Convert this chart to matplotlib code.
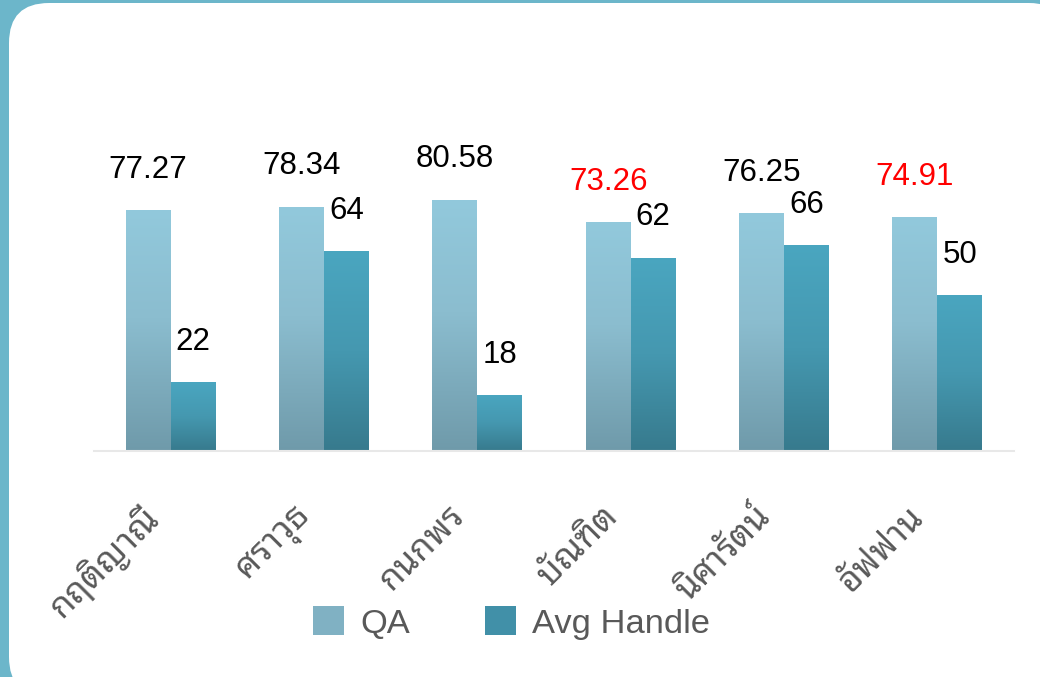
import numpy as np
import matplotlib
matplotlib.use('Agg')
import matplotlib.pyplot as plt
from matplotlib import font_manager as fm
from matplotlib.patches import FancyBboxPatch, Rectangle
from matplotlib.colors import LinearSegmentedColormap
from matplotlib.transforms import ScaledTranslation

# datos
nombres = ['กฤติญาณี', 'ศราวุธ', 'กนกพร', 'บัณฑิต', 'นิศารัตน์', 'อัฟฟาน']
qa = [77.27, 78.34, 80.58, 73.26, 76.25, 74.91]
avg_handle = [22, 64, 18, 62, 66, 50]
series = ['QA', 'Avg Handle']
umbral_qa = 75

# fuente tailandesa disponible
disponibles = {f.name for f in fm.fontManager.ttflist}
fuente_thai = 'DejaVu Sans'
for cand in ['Noto Sans Thai Looped', 'Noto Sans Thai', 'Sarabun', 'Niramit', 'Mitr']:
    if cand in disponibles:
        fuente_thai = cand
        break
fuente_lat = 'Liberation Sans'

fig = plt.figure(figsize=(10.4, 6.77), dpi=100)
fig.patch.set_facecolor('#6cb6ca')
# caja blanca redondeada (en pixeles)
caja = FancyBboxPatch((9, -20), 1060, 677 - 3 + 20,
                      boxstyle='round,pad=0,rounding_size=40',
                      transform=None, facecolor='white', edgecolor='none', zorder=-5)
fig.patches.append(caja)

ax = fig.add_axes([94 / 1040, 226 / 677, 920 / 1040, 312 / 677])
ax.set_facecolor('none')
ax.set_zorder(2)

x = np.arange(len(nombres))
w = 0.293

cmap_qa = LinearSegmentedColormap.from_list('qa', [(0, '#6f9aaa'), (0.55, '#8bbdcf'), (1, '#92c9dc')])
cmap_av = LinearSegmentedColormap.from_list('av', [(0, '#377a8d'), (0.5, '#4598b0'), (1, '#4aa6c0')])
grad = np.linspace(0, 1, 256).reshape(-1, 1)

barras_qa = ax.bar(x - w / 2, qa, w, color='none')
barras_av = ax.bar(x + w / 2, avg_handle, w, color='none')

for barras, cmap in [(barras_qa, cmap_qa), (barras_av, cmap_av)]:
    for b in barras:
        x0, h = b.get_x(), b.get_height()
        im = ax.imshow(grad, cmap=cmap, origin='lower', aspect='auto',
                       extent=[x0, x0 + b.get_width(), 0, h], zorder=2)
        im.set_clip_path(b)

ax.set_xlim(-0.5, len(nombres) - 0.5)
ax.set_ylim(0, 100)

# etiquetas de valores
for b, v in zip(barras_qa, qa):
    col = 'red' if v < umbral_qa else 'black'
    ax.annotate(f'{v:.2f}', (b.get_x() + b.get_width() / 2, v), xytext=(0, 29),
                textcoords='offset points', ha='center', va='center',
                fontsize=22.5, color=col, family=fuente_lat)
for b, v in zip(barras_av, avg_handle):
    ax.annotate(f'{v}', (b.get_x() + b.get_width() / 2, v), xytext=(0, 29),
                textcoords='offset points', ha='center', va='center',
                fontsize=22.5, color='black', family=fuente_lat)

for s in ['top', 'right', 'left']:
    ax.spines[s].set_visible(False)
ax.spines['bottom'].set_color('#e8e8e8')
ax.spines['bottom'].set_linewidth(1.5)
ax.set_yticks([])
ax.set_xticks(x)
ax.set_xticklabels(nombres, rotation=45, ha='right', va='top', rotation_mode='anchor',
                   fontsize=25, color='#595959', family=[fuente_thai, 'DejaVu Sans'])
ax.tick_params(axis='x', length=0, pad=35)
desplaz = ScaledTranslation(-30 / 100, 0, fig.dpi_scale_trans)
for lab in ax.get_xticklabels():
    lab.set_transform(lab.get_transform() + desplaz)

# leyenda
h_qa = Rectangle((0, 0), 1, 1, facecolor='#80b1c3')
h_av = Rectangle((0, 0), 1, 1, facecolor='#4190a8')
fig.legend([h_qa, h_av], series, loc='center', bbox_to_anchor=(0.492, 54 / 677), ncol=2,
           frameon=False, prop={'family': fuente_lat, 'size': 24.8},
           labelcolor='#595959', handlelength=0.9, handleheight=0.9,
           handletextpad=0.45, columnspacing=2.2)

fig.savefig('out.png', dpi=100, facecolor=fig.get_facecolor())
